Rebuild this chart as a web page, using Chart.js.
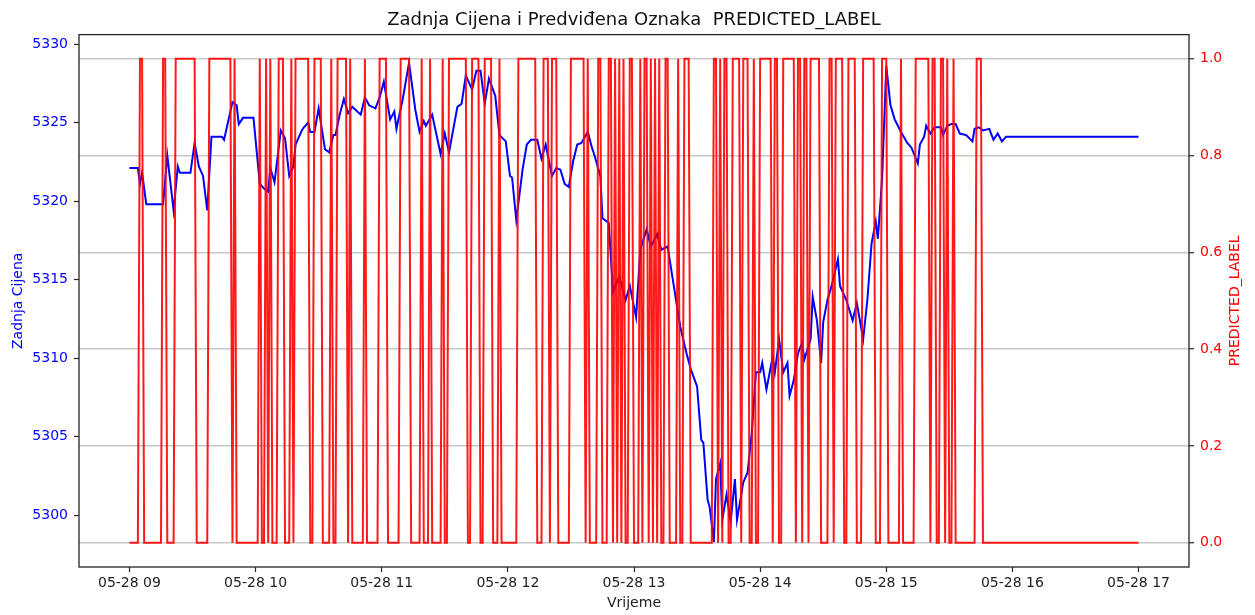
<!DOCTYPE html>
<html>
<head>
<meta charset="utf-8">
<title>Zadnja Cijena i Predviđena Oznaka</title>
<script src="https://cdn.jsdelivr.net/npm/chart.js@4.4.0/dist/chart.umd.min.js"></script>
<style>
  html, body { margin: 0; padding: 0; background: #fff; }
  #wrap { width: 1255px; height: 615px; position: relative; }
</style>
</head>
<body>
<div id="wrap"><canvas id="chart"></canvas></div>
<script>
// last price (time of day -> price)
const priceTimes = [
  '09:00','09:04','09:05','09:06','09:08','09:16','09:18','09:21','09:23','09:24','09:29','09:31','09:33','09:35','09:37','09:39','09:44','09:45','09:49','09:51','09:52','09:54','09:59',
  '10:02','10:04','10:06','10:07','10:09','10:12','10:14','10:16','10:18','10:19','10:22','10:23','10:25','10:26','10:28','10:30','10:33','10:35','10:37','10:38','10:40','10:42','10:44','10:46','10:50','10:52','10:54','10:57','10:59',
  '11:01','11:04','11:06','11:07','11:10','11:13','11:16','11:18','11:20','11:21','11:24','11:28','11:30','11:32','11:36','11:38','11:40','11:43','11:45','11:47','11:49','11:51','11:54','11:56','11:59',
  '12:01','12:02','12:04','12:07','12:09','12:11','12:14','12:16','12:18','12:21','12:23','12:25','12:27','12:29','12:31','12:33','12:35','12:38','12:40','12:41','12:44','12:45','12:48','12:50','12:53','12:56','12:58',
  '13:01','13:03','13:06','13:08','13:11','13:13','13:16','13:18','13:22','13:25','13:27','13:30','13:32','13:33','13:35','13:36','13:38','13:39','13:41','13:42','13:44','13:46','13:48','13:49','13:52','13:54','13:56','13:58',
  '14:00','14:01','14:03','14:06','14:07','14:09','14:11','14:13','14:14','14:16','14:18','14:20','14:21','14:24','14:25','14:27','14:29','14:30','14:32','14:34','14:37','14:38','14:41','14:44','14:46','14:49','14:51','14:52','14:53','14:55','14:56','14:58',
  '15:00','15:02','15:04','15:07','15:10','15:12','15:15','15:16','15:18','15:19','15:21','15:23','15:26','15:27','15:29','15:31','15:33','15:35','15:38','15:41','15:42','15:44','15:46','15:49','15:51','15:53','15:55','15:57',
  '17:00'
];
const prices = [
  5322.1,5322.1,5321.1,5321.8,5319.8,5319.8,5322.9,5319.4,5322.2,5321.8,5321.8,5323.7,5322.2,5321.6,5319.4,5324.1,5324.1,5323.9,5326.3,5326.1,5324.9,5325.3,5325.3,
  5321.1,5320.8,5320.6,5322.1,5321.2,5324.5,5324.0,5321.6,5322.2,5323.6,5324.5,5324.7,5325.0,5324.4,5324.4,5325.9,5323.3,5323.1,5324.2,5324.2,5325.5,5326.5,5325.6,5326.0,5325.5,5326.6,5326.1,5325.9,5326.6,
  5327.6,5325.2,5325.7,5324.6,5326.5,5328.8,5325.8,5324.4,5325.1,5324.8,5325.5,5323.0,5324.3,5323.1,5326.0,5326.2,5328.0,5327.1,5328.3,5328.3,5326.2,5327.8,5326.7,5324.2,5323.8,
  5321.6,5321.5,5318.8,5322.0,5323.6,5323.9,5323.9,5322.7,5323.6,5321.6,5322.1,5322.0,5321.1,5320.9,5322.5,5323.6,5323.7,5324.4,5323.4,5323.0,5321.6,5318.9,5318.6,5314.2,5315.2,5313.7,5314.6,
  5312.6,5316.9,5318.2,5317.1,5317.9,5316.9,5317.1,5315.4,5312.0,5310.3,5309.3,5308.2,5304.8,5304.6,5301.0,5300.5,5298.3,5302.3,5303.3,5299.7,5301.3,5299.6,5302.3,5299.7,5302.1,5302.7,5305.2,5309.1,
  5309.1,5309.7,5308.0,5310.1,5309.1,5311.2,5309.1,5309.7,5307.6,5308.6,5310.3,5311.0,5309.9,5311.2,5313.9,5312.4,5309.7,5312.3,5313.7,5314.6,5316.3,5314.6,5313.7,5312.4,5313.5,5311.2,5313.7,5315.5,5317.3,5318.7,5317.6,5321.4,
  5328.6,5326.1,5325.2,5324.4,5323.7,5323.4,5322.4,5323.6,5324.1,5324.8,5324.3,5324.7,5324.7,5324.2,5324.8,5324.9,5324.9,5324.3,5324.2,5323.8,5324.6,5324.7,5324.5,5324.6,5323.9,5324.3,5323.8,5324.1,
  5324.1
];

// minutes where PREDICTED_LABEL is 1, [from, to] inclusive; 0 everywhere else
const labelOnRuns = [
  ['09:05','09:06'],['09:16','09:17'],['09:22','09:31'],['09:38','09:48'],['09:50','09:50'],
  ['10:02','10:02'],['10:05','10:05'],['10:07','10:07'],['10:11','10:13'],['10:17','10:17'],['10:19','10:25'],
  ['10:28','10:31'],['10:36','10:36'],['10:39','10:43'],['10:45','10:45'],['10:52','10:52'],['10:59','11:02'],
  ['11:09','11:13'],['11:19','11:19'],['11:23','11:23'],['11:29','11:29'],['11:32','11:40'],['11:43','11:46'],
  ['11:49','11:52'],['11:56','11:56'],
  ['12:05','12:13'],['12:17','12:19'],['12:21','12:23'],['12:30','12:36'],['12:38','12:38'],['12:43','12:44'],
  ['12:48','12:49'],['12:51','12:51'],['12:53','12:53'],['12:55','12:55'],['12:58','12:59'],
  ['13:03','13:03'],['13:05','13:06'],['13:08','13:08'],['13:10','13:10'],['13:12','13:12'],['13:15','13:16'],
  ['13:21','13:21'],['13:24','13:26'],['13:38','13:39'],['13:41','13:41'],['13:43','13:44'],['13:47','13:50'],
  ['13:52','13:54'],['13:57','13:57'],
  ['14:00','14:05'],['14:07','14:08'],['14:11','14:16'],['14:18','14:19'],['14:21','14:22'],['14:24','14:28'],
  ['14:33','14:34'],['14:36','14:39'],['14:42','14:45'],['14:49','14:54'],['14:58','15:00'],
  ['15:07','15:07'],['15:14','15:20'],['15:22','15:23'],['15:26','15:27'],['15:29','15:29'],['15:32','15:32'],
  ['15:43','15:45']
];
const labelStart = '09:00';
const labelEnd = '17:00';

const xTickHours = [9, 10, 11, 12, 13, 14, 15, 16, 17];
const xTickLabels = ['05-28 09', '05-28 10', '05-28 11', '05-28 12', '05-28 13', '05-28 14', '05-28 15', '05-28 16', '05-28 17'];
const priceTicks = [5300, 5305, 5310, 5315, 5320, 5325, 5330];
const labelTicks = [0, 0.2, 0.4, 0.6, 0.8, 1.0];

const toMin = t => { const [h, m] = t.split(':').map(Number); return h * 60 + m; };

const pricePoints = priceTimes.map((t, i) => ({ x: toMin(t) / 60, y: prices[i] }));

const labelPoints = [];
for (let m = toMin(labelStart); m <= toMin(labelEnd); m++) {
  const on = labelOnRuns.some(r => m >= toMin(r[0]) && m <= toMin(r[1]));
  labelPoints.push({ x: m / 60, y: on ? 1 : 0 });
}

Chart.defaults.font.family = "'DejaVu Sans', sans-serif";
Chart.defaults.font.size = 14;

// axes frame + right axis title (matplotlib reads it bottom to top)
const frame = {
  id: 'frame',
  afterDraw(chart) {
    const { ctx, chartArea: a } = chart;
    ctx.save();
    ctx.strokeStyle = '#262626';
    ctx.lineWidth = 1.3;
    ctx.strokeRect(a.left, a.top, a.right - a.left, a.bottom - a.top);
    ctx.translate(1235, (a.top + a.bottom) / 2);
    ctx.rotate(-Math.PI / 2);
    ctx.fillStyle = '#ff0000';
    ctx.font = "14px 'DejaVu Sans'";
    ctx.textAlign = 'center';
    ctx.textBaseline = 'middle';
    ctx.fillText('PREDICTED_LABEL', 0, 0);
    ctx.restore();
  }
};

new Chart(document.getElementById('chart'), {
  type: 'line',
  data: {
    datasets: [
      {
        label: 'PREDICTED_LABEL',
        data: labelPoints,
        yAxisID: 'y2',
        borderColor: 'rgba(255, 0, 0, 0.9)',
        borderWidth: 2,
        pointRadius: 0,
        tension: 0,
        order: 0
      },
      {
        label: 'Zadnja Cijena',
        data: pricePoints,
        yAxisID: 'y',
        borderColor: '#0000ff',
        borderWidth: 2,
        pointRadius: 0,
        tension: 0,
        order: 1
      }
    ]
  },
  options: {
    responsive: true,
    maintainAspectRatio: false,
    animation: false,
    layout: { padding: 0 },
    plugins: {
      legend: { display: false },
      tooltip: { enabled: false },
      title: {
        display: true,
        text: 'Zadnja Cijena i Predviđena Oznaka  PREDICTED_LABEL',
        color: '#111',
        font: { size: 18, weight: 'normal' },
        padding: { top: 10, bottom: 3 },
        fullSize: false
      }
    },
    scales: {
      x: {
        type: 'linear',
        min: 8.6,
        max: 17.4,
        afterBuildTicks: s => { s.ticks = xTickHours.map(v => ({ value: v })); },
        afterFit: s => { s.height = 48; },
        ticks: {
          autoSkip: false,
          maxRotation: 0,
          padding: 3,
          color: '#222',
          callback: (v, i) => xTickLabels[i]
        },
        grid: { drawOnChartArea: false, tickLength: 5, tickColor: '#262626', tickWidth: 1.2 },
        border: { display: false },
        title: { display: true, text: 'Vrijeme', color: '#222', padding: { top: 0, bottom: 3 } }
      },
      y: {
        position: 'left',
        min: 5296.7,
        max: 5330.6,
        afterBuildTicks: s => { s.ticks = priceTicks.map(v => ({ value: v })); },
        afterFit: s => { s.width = 79; },
        ticks: { color: '#0000ff', padding: 6, callback: v => String(v) },
        grid: { drawOnChartArea: false, tickLength: 5, tickColor: '#262626', tickWidth: 1.2 },
        border: { display: false },
        title: { display: true, text: 'Zadnja Cijena', color: '#0000ff', padding: { top: 10, bottom: 0 } }
      },
      y2: {
        position: 'right',
        min: -0.05,
        max: 1.05,
        afterBuildTicks: s => { s.ticks = labelTicks.map(v => ({ value: v })); },
        afterFit: s => { s.width = 66; },
        ticks: { color: '#ff0000', padding: 6, callback: v => v.toFixed(1) },
        grid: { color: '#c8c8c8', lineWidth: 1.5, tickLength: 5, tickColor: '#262626', tickWidth: 1.2 },
        border: { display: false }
      }
    }
  },
  plugins: [frame]
});
</script>
</body>
</html>
